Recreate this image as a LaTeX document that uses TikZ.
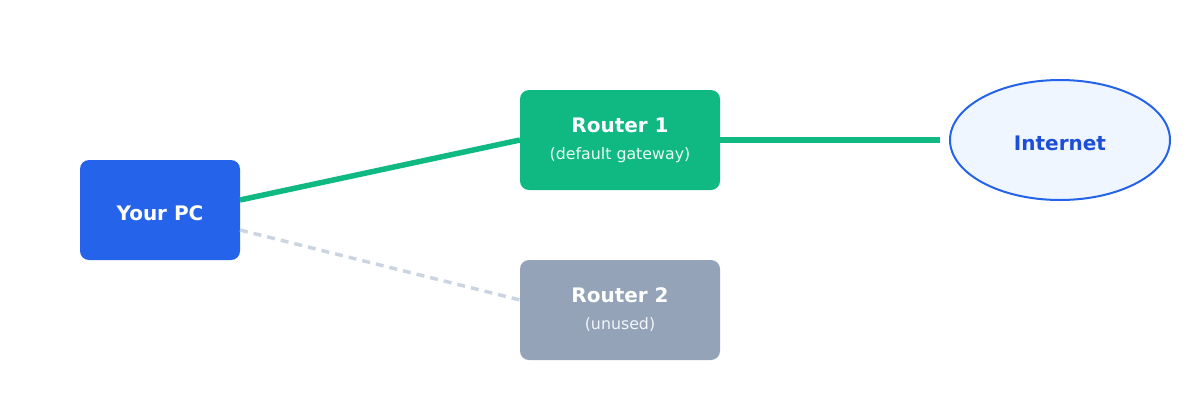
\documentclass[tikz,border=0pt]{standalone}
\usepackage{fontspec}
\setmainfont{DejaVu Sans}
\usetikzlibrary{shapes.geometric}
\definecolor{pcblue}{HTML}{2563EB}
\definecolor{rgreen}{HTML}{10B981}
\definecolor{rgray}{HTML}{94A3B8}
\definecolor{dashgray}{HTML}{CBD5E1}
\definecolor{inetfill}{HTML}{EFF6FF}
\definecolor{inettext}{HTML}{1D4ED8}
\definecolor{subgreen}{HTML}{ECFDF5}
\definecolor{subgray}{HTML}{F1F5F9}
\tikzset{
  box/.style={rectangle, rounded corners=9pt, minimum width=200pt, minimum height=100pt, inner sep=0pt, draw=none},
  ttl/.style={text=white, font=\fontsize{20}{24}\selectfont\bfseries, inner sep=0pt},
  sub/.style={font=\fontsize{15.8}{19}\selectfont, inner sep=0pt},
  gline/.style={draw=rgreen, line width=5.5pt},
  uline/.style={draw=dashgray, line width=3.5pt, dash pattern=on 8pt off 6pt}
}
\begin{document}
\begin{tikzpicture}[x=1pt,y=-1pt]
\useasboundingbox (0,0) rectangle (1200,400);
\node[box, fill=pcblue, minimum width=160pt] (pc) at (160,210) {};
\node[box, fill=rgreen] (r1) at (620,140) {};
\node[box, fill=rgray] (r2) at (620,310) {};
\node[ellipse, draw=pcblue, line width=2pt, fill=inetfill, minimum width=220pt, minimum height=120pt, inner sep=0pt] (inet) at (1060,140) {};
\node[ttl] (pct) at (160,213) {Your PC};
\node[ttl] (r1t) at (620,125) {Router 1};
\node[sub, text=subgreen] (r1s) at (620,155) {(default gateway)};
\node[ttl] (r2t) at (620,295) {Router 2};
\node[sub, text=subgray] (r2s) at (620,325) {(unused)};
\node[ttl, text=inettext] (inett) at (1060,143) {Internet};
\coordinate (pcA) at (240,200);
\coordinate (pcB) at (240,230);
\coordinate (r1L) at (520,140);
\coordinate (r1R) at (720,140);
\coordinate (inetend) at (940,140);
\coordinate (r2L) at (520,300);
\draw[gline] (pcA) -- (r1L);
\draw[gline] (r1R) -- (inetend);
\draw[uline] (pcB) -- (r2L);
\end{tikzpicture}
\end{document}
